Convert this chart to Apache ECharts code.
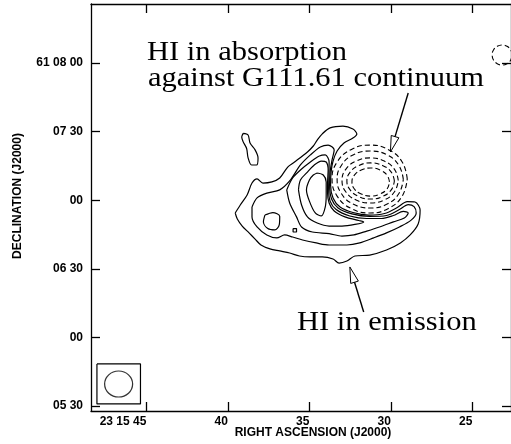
<!DOCTYPE html>
<html>
<head>
<meta charset="utf-8">
<script src="https://cdn.jsdelivr.net/npm/echarts@6/dist/echarts.min.js"></script>
<style>
html, body { margin: 0; padding: 0; background: #fff; }
#chart { width: 511px; height: 444px; }
</style>
</head>
<body>
<div id="chart"></div>
<script>
// x: RA seconds after 23h15m, y: Dec arcsec after 61d05m00s
const raTicks = [45, 40, 35, 30, 25];
const raLabels = ['23 15 45', '40', '35', '30', '25'];
const decTicks = [30, 60, 90, 120, 150, 180];
const decLabels = ['05 30', '00', '06 30', '00', '07 30', '61 08 00'];
const raMin = 22.636, raMax = 48.394;
const decMin = 27.81, decMax = 205.8;

// HI emission contours (solid)
const emis1 = [[39.55,114.4],[39.24,117.9],[38.82,122.3],[38.52,127.5],[38.21,129.3],[37.85,127.5],[37.30,128.0],[36.82,129.7],[36.33,134.5],[35.91,136.7],[35.12,141.1],[34.76,143.7],[34.52,146.3],[34.21,149.0],[33.73,151.6],[32.94,152.4],[32.33,151.1],[32.09,149.0],[32.33,147.2],[32.88,145.0],[33.30,141.5],[33.55,137.1],[33.67,132.3],[33.70,126.6],[33.55,121.0],[33.12,117.0],[32.33,114.6],[31.36,113.5],[30.39,114.2],[29.61,116.8],[29.00,119.4],[28.52,119.2],[28.21,115.7],[28.33,109.6],[28.82,104.8],[29.42,101.3],[30.27,98.2],[31.30,96.0],[32.21,95.6],[32.70,93.4],[33.18,92.5],[33.55,94.3],[34.21,95.2],[34.94,95.2],[35.61,95.6],[36.21,96.9],[36.82,97.8],[37.42,98.7],[37.97,100.4],[38.33,103.0],[38.70,105.7],[39.12,108.7],[39.42,111.8],[39.55,114.4]];
const emis2 = [[38.52,117.0],[38.21,121.0],[37.61,123.1],[36.82,124.5],[36.21,128.4],[35.55,135.4],[34.94,139.8],[34.33,143.3],[33.85,144.1],[33.48,142.0],[33.61,137.6],[33.73,132.3],[33.76,126.6],[33.64,120.5],[33.24,116.6],[32.39,114.0],[31.30,112.9],[30.27,113.3],[29.48,115.9],[28.94,118.1],[28.58,117.2],[28.45,114.4],[28.76,111.3],[29.48,108.3],[30.27,105.7],[31.06,103.5],[31.91,101.3],[32.70,100.4],[33.30,100.4],[33.79,100.4],[34.58,101.3],[35.42,102.6],[36.03,103.9],[36.52,104.8],[37.00,103.5],[37.61,104.8],[38.21,108.3],[38.52,112.7],[38.52,117.0]];
const emis3 = [[36.39,124.5],[36.03,129.7],[35.55,133.2],[34.94,136.7],[34.39,139.3],[34.03,139.8],[33.79,136.7],[33.80,131.0],[33.82,125.3],[33.73,119.6],[33.36,115.9],[32.52,113.1],[31.48,112.0],[30.58,112.0],[29.85,113.3],[29.24,115.1],[28.94,114.4],[29.18,112.2],[29.85,110.5],[30.70,108.3],[31.48,106.5],[32.27,104.8],[33.00,104.3],[33.79,105.4],[34.82,106.1],[35.48,108.3],[35.79,112.7],[36.21,118.8],[36.39,124.5]];
const emis4 = [[35.67,124.5],[35.55,128.8],[35.12,132.3],[34.70,135.4],[34.27,137.1],[33.97,136.7],[33.85,133.2],[33.88,128.8],[33.89,123.6],[33.79,118.8],[33.48,115.3],[32.82,112.7],[31.97,111.1],[31.67,110.5],[32.21,109.4],[33.00,108.7],[33.79,108.7],[34.52,110.0],[35.12,112.7],[35.48,117.9],[35.67,124.5]];
const emis5 = [[34.52,131.9],[34.15,131.0],[33.97,128.0],[33.97,122.3],[34.03,117.0],[34.27,113.1],[34.64,114.4],[35.00,119.6],[35.18,124.5],[35.00,128.8],[34.76,131.0],[34.52,131.9]];
const island = [[37.73,113.5],[37.24,114.6],[36.82,112.9],[36.85,109.2],[37.12,107.0],[37.55,107.6],[37.82,110.5],[37.73,113.5]];
const speck = [[36.00,107.6],[35.79,107.6],[35.79,106.1],[36.00,106.1],[36.00,107.6]];
const blob = [[39.06,149.2],[38.76,148.5],[38.64,145.0],[38.33,142.0],[38.15,138.5],[38.24,135.4],[38.55,135.4],[38.76,138.5],[38.85,142.6],[39.06,145.5],[39.15,147.6],[39.06,149.2]];

// HI absorption contours (dashed, negative)
const absn1 = [[29.00,129.3],[29.31,136.7],[30.15,142.1],[31.30,144.1],[32.45,142.1],[33.30,136.7],[33.61,129.3],[33.30,121.8],[32.45,116.4],[31.30,114.4],[30.15,116.4],[29.31,121.8]];
const absn2 = [[29.24,129.1],[29.52,135.3],[30.26,139.9],[31.27,141.5],[32.29,139.9],[33.03,135.3],[33.30,129.1],[33.03,122.8],[32.29,118.2],[31.27,116.6],[30.26,118.2],[29.52,122.8]];
const absn3 = [[29.55,128.6],[29.78,133.5],[30.41,137.1],[31.27,138.5],[32.14,137.1],[32.77,133.5],[33.00,128.6],[32.77,123.7],[32.14,120.1],[31.27,118.8],[30.41,120.1],[29.78,123.7]];
const absn4 = [[29.79,128.4],[29.98,132.3],[30.52,135.2],[31.24,136.3],[31.97,135.2],[32.50,132.3],[32.70,128.4],[32.50,124.5],[31.97,121.6],[31.24,120.5],[30.52,121.6],[29.98,124.5]];
const absn5 = [[30.09,128.0],[30.24,131.0],[30.67,133.2],[31.24,134.1],[31.82,133.2],[32.24,131.0],[32.39,128.0],[32.24,124.9],[31.82,122.7],[31.24,121.8],[30.67,122.7],[30.24,124.9]];
const absnEdge = [[22.58,183.5],[22.65,185.7],[22.88,187.3],[23.18,187.9],[23.48,187.3],[23.71,185.7],[23.79,183.5],[23.71,181.3],[23.48,179.7],[23.18,179.1],[22.88,179.7],[22.65,181.3]];

// beam
const beamBox = [[48.03,48.4],[45.36,48.4],[45.36,30.9],[48.03,30.9],[48.03,48.4]];
const beamCentre = [46.70, 39.6];

// annotation arrows: tail -> tip
const arrowTail = [[28.94,166.9],[31.67,71.1]];
const arrowTip = [[30.03,141.1],[32.52,90.8]];

const closed = pts => pts.concat([pts[0]]);

const chart = echarts.init(document.getElementById('chart'));

const axisFont = { color: '#000', fontFamily: 'Liberation Sans', fontWeight: 'bold', fontSize: 12 };
const lineCol = { color: '#000', width: 1.3 };

function solid(data, smooth) {
  return { type: 'line', data: data, symbol: 'none', smooth: smooth === undefined ? 0.3 : smooth,
           lineStyle: { color: '#000', width: 1.2 }, silent: true };
}
function dashed(data) {
  return { type: 'line', data: closed(data), symbol: 'none', smooth: 0.45,
           lineStyle: { color: '#000', width: 1.1, type: [5, 3] }, silent: true };
}

const option = {
  animation: false,
  backgroundColor: '#fff',
  grid: { left: 91, top: 4, width: 425, height: 407, containLabel: false },
  xAxis: [
    {
      type: 'value', position: 'bottom', inverse: true, min: raMin, max: raMax,
      axisLine: { onZero: false, lineStyle: lineCol },
      axisTick: { inside: true, length: 9, customValues: raTicks, lineStyle: lineCol },
      axisLabel: Object.assign({ customValues: raTicks, align: 'right', margin: 5,
        formatter: v => raLabels[raTicks.indexOf(v)] }, axisFont),
      splitLine: { show: false }
    },
    {
      type: 'value', position: 'top', inverse: true, min: raMin, max: raMax,
      axisLine: { onZero: false, lineStyle: lineCol },
      axisTick: { inside: true, length: 9, customValues: raTicks, lineStyle: lineCol },
      axisLabel: { show: false }, splitLine: { show: false }
    }
  ],
  yAxis: [
    {
      type: 'value', position: 'left', min: decMin, max: decMax,
      axisLine: { onZero: false, lineStyle: lineCol },
      axisTick: { inside: true, length: 9, customValues: decTicks, lineStyle: lineCol },
      axisLabel: Object.assign({ customValues: decTicks, margin: 8,
        formatter: v => decLabels[decTicks.indexOf(v)] }, axisFont),
      splitLine: { show: false }
    },
    {
      type: 'value', position: 'right', min: decMin, max: decMax,
      axisLine: { onZero: false, lineStyle: lineCol },
      axisTick: { inside: true, length: 9, customValues: decTicks, lineStyle: lineCol },
      axisLabel: { show: false }, splitLine: { show: false }
    }
  ],
  graphic: [
    { type: 'text', x: 147, y: 52.5, scaleX: 1.09,
      style: { text: 'HI in absorption', fontFamily: 'Liberation Serif', fontSize: 28, fill: '#000', verticalAlign: 'middle' } },
    { type: 'text', x: 148, y: 79, scaleX: 1.09,
      style: { text: 'against G111.61 continuum', fontFamily: 'Liberation Serif', fontSize: 28, fill: '#000', verticalAlign: 'middle' } },
    { type: 'text', x: 297, y: 323, scaleX: 1.09,
      style: { text: 'HI in emission', fontFamily: 'Liberation Serif', fontSize: 28, fill: '#000', verticalAlign: 'middle' } },
    { type: 'text', x: 313, y: 433,
      style: { text: 'RIGHT ASCENSION (J2000)', fontFamily: 'Liberation Sans', fontWeight: 'bold', fontSize: 12,
               fill: '#000', align: 'center', verticalAlign: 'middle' } },
    { type: 'text', x: 18, y: 196, rotation: Math.PI / 2,
      style: { text: 'DECLINATION (J2000)', fontFamily: 'Liberation Sans', fontWeight: 'bold', fontSize: 12,
               fill: '#000', align: 'center', verticalAlign: 'middle' } }
  ],
  series: [
    solid(emis1), solid(emis2), solid(emis3), solid(emis4), solid(emis5),
    solid(island), solid(speck, false), solid(blob),
    dashed(absn1), dashed(absn2), dashed(absn3), dashed(absn4), dashed(absn5), dashed(absnEdge),
    solid(beamBox, false),
    {
      type: 'scatter', data: [beamCentre], symbol: 'circle', symbolSize: [28, 26], silent: true,
      itemStyle: { color: 'rgba(0,0,0,0)', borderColor: '#000', borderWidth: 1.2 }
    },
    {
      type: 'custom', silent: true,
      data: arrowTail.map((t, i) => [t[0], t[1], arrowTip[i][0], arrowTip[i][1]]),
      encode: { x: [0, 2], y: [1, 3] },
      renderItem: function (params, api) {
        const a = api.coord([api.value(0), api.value(1)]);
        const b = api.coord([api.value(2), api.value(3)]);
        const dx = b[0] - a[0], dy = b[1] - a[1];
        const len = Math.sqrt(dx * dx + dy * dy);
        const ux = dx / len, uy = dy / len;
        const hl = 16, hw = 4;
        const bx = b[0] - ux * hl, by = b[1] - uy * hl;
        return {
          type: 'group',
          children: [
            { type: 'line', shape: { x1: a[0], y1: a[1], x2: bx, y2: by },
              style: { stroke: '#000', lineWidth: 1.4 } },
            { type: 'polygon', shape: { points: [[b[0], b[1]], [bx - uy * hw, by + ux * hw], [bx + uy * hw, by - ux * hw]] },
              style: { stroke: '#000', fill: 'rgba(0,0,0,0)', lineWidth: 1 } }
          ]
        };
      }
    }
  ]
};

chart.setOption(option);
</script>
</body>
</html>
